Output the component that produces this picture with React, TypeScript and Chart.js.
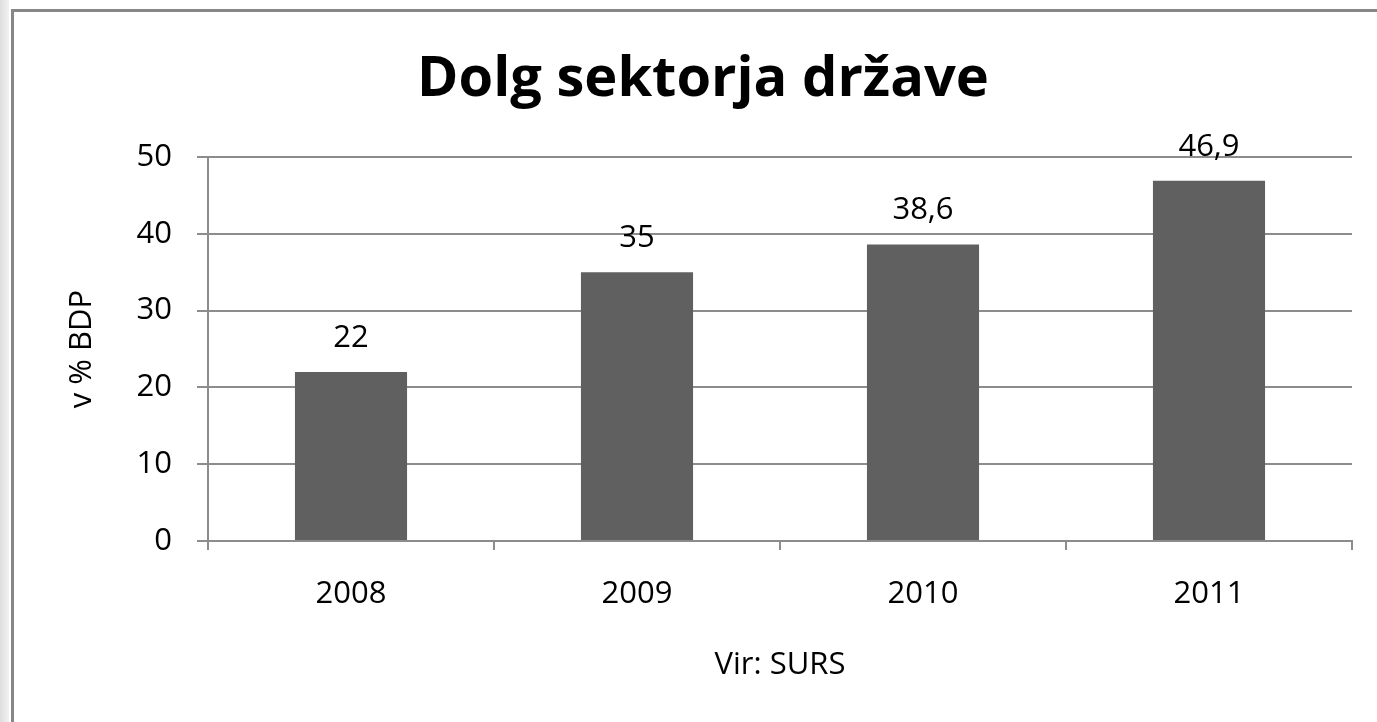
import React, { useEffect, useRef } from "react";
import { Chart, registerables } from "chart.js";

Chart.register(...registerables);

const categories = ["2008", "2009", "2010", "2011"];
const debtValues = [22, 35, 38.6, 46.9];
const valueLabels = ["22", "35", "38,6", "46,9"];
const chartTitle = "Dolg sektorja države";
const yAxisTitle = "v % BDP";
const xAxisTitle = "Vir: SURS";
const yMin = 0;
const yMax = 50;
const yStep = 10;

const FONT = '"Open Sans", "Liberation Sans", sans-serif';
const AXIS_FONT_SIZE = 31;

const titlePlugin = {
  id: "customTitle",
  afterDraw(chart: any) {
    const ctx = chart.ctx;
    ctx.save();
    ctx.font = `bold 56px ${FONT}`;
    ctx.fillStyle = "#000000";
    ctx.textAlign = "center";
    ctx.textBaseline = "alphabetic";
    ctx.fillText(chartTitle, 703, 96);
    ctx.restore();
  },
};

const valueLabelPlugin = {
  id: "valueLabels",
  afterDatasetsDraw(chart: any) {
    const ctx = chart.ctx;
    const meta = chart.getDatasetMeta(0);
    ctx.save();
    ctx.font = `${AXIS_FONT_SIZE}px ${FONT}`;
    ctx.fillStyle = "#000000";
    ctx.textAlign = "center";
    ctx.textBaseline = "middle";
    meta.data.forEach((bar: any, i: number) => {
      ctx.fillText(valueLabels[i], bar.x, bar.y - 34);
    });
    ctx.restore();
  },
};

export default function App() {
  const canvasRef = useRef<HTMLCanvasElement | null>(null);

  useEffect(() => {
    const canvas = canvasRef.current;
    if (!canvas) return;
    const chart = new Chart(canvas, {
      type: "bar",
      data: {
        labels: categories,
        datasets: [
          {
            data: debtValues,
            backgroundColor: "#606060",
            borderWidth: 0,
            barPercentage: 0.392,
            categoryPercentage: 1,
          },
        ],
      },
      options: {
        responsive: false,
        animation: false,
        maintainAspectRatio: false,
        layout: { padding: { top: 157, right: 25, left: 0, bottom: 0 } },
        plugins: {
          legend: { display: false },
          title: { display: false },
          tooltip: { enabled: false },
        },
        scales: {
          x: {
            afterFit(scale: any) {
              scale.height = 181;
            },
            grid: {
              display: true,
              drawOnChartArea: false,
              drawTicks: true,
              tickLength: 9,
              offset: true,
              color: "#8c8c8c",
              lineWidth: 2,
            },
            border: { display: true, color: "#8c8c8c", width: 2 },
            ticks: {
              color: "#000000",
              font: { family: FONT, size: AXIS_FONT_SIZE },
              padding: 26,
              maxRotation: 0,
            },
            title: {
              display: true,
              text: xAxisTitle,
              color: "#000000",
              font: { family: FONT, size: AXIS_FONT_SIZE },
              padding: { top: 0, bottom: 38 },
            },
          },
          y: {
            min: yMin,
            max: yMax,
            afterFit(scale: any) {
              scale.width = 208;
            },
            grid: {
              display: true,
              drawOnChartArea: true,
              drawTicks: true,
              tickLength: 11,
              color: "#8c8c8c",
              lineWidth: 2,
            },
            border: { display: true, color: "#8c8c8c", width: 2 },
            ticks: {
              stepSize: yStep,
              color: "#000000",
              font: { family: FONT, size: AXIS_FONT_SIZE },
              padding: 25,
            },
            title: {
              display: true,
              text: yAxisTitle,
              color: "#000000",
              font: { family: FONT, size: AXIS_FONT_SIZE },
              padding: { top: 64, bottom: 0 },
            },
          },
        },
      },
      plugins: [titlePlugin, valueLabelPlugin],
    });
    return () => chart.destroy();
  }, []);

  return (
    <div
      style={{
        position: "fixed",
        left: 0,
        top: 0,
        width: 1377,
        height: 722,
        background: "#ffffff",
        overflow: "hidden",
      }}
    >
      <div
        style={{
          position: "absolute",
          left: 0,
          top: 0,
          width: 9,
          height: 722,
          background: "linear-gradient(to right, #dedede, #f2f2f2)",
        }}
      />
      <div
        style={{
          position: "absolute",
          left: 11,
          top: 9,
          width: 1366,
          height: 713,
          borderLeft: "3px solid #878787",
          borderTop: "3px solid #878787",
          boxSizing: "border-box",
        }}
      />
      <canvas
        ref={canvasRef}
        width={1377}
        height={722}
        style={{ position: "absolute", left: 0, top: 0, width: 1377, height: 722 }}
      />
    </div>
  );
}
